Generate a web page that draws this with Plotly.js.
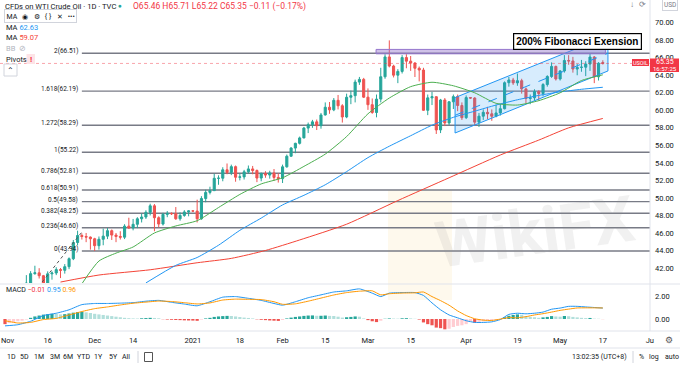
<!DOCTYPE html>
<html><head><meta charset="utf-8">
<script src="https://cdn.plot.ly/plotly-3.0.1.min.js"></script>
<style>html,body{margin:0;padding:0;background:#fff;}#chart{width:680px;height:365px;}</style>
</head><body><div id="chart"></div>
<script>
// ---- Data (trading days from 2 Nov 2020 to 17 May 2021, index 0..140) ----
const open = [35.79,36.81,37.66,39.15,38.79,37.14,40.29,41.36,41.45,41.12,
40.13,41.34,41.43,41.82,41.74,42.15,43.06,44.91,45.71,45.60,
45.53,45.34,44.55,45.28,45.64,46.26,45.76,45.60,45.52,46.78,
46.57,46.99,47.62,47.82,48.36,49.10,47.74,47.02,48.12,48.23,
48.20,47.62,48.00,48.40,48.52,48.50,47.62,49.93,50.63,50.83,
52.24,52.25,53.21,52.91,53.57,52.36,52.40,52.98,53.31,53.13,
52.27,52.77,52.61,52.85,52.34,52.20,53.55,54.76,55.69,56.23,
56.85,57.97,58.36,58.68,58.24,59.47,60.35,60.05,61.14,60.52,
59.24,61.49,61.67,63.22,63.53,61.50,60.64,59.75,61.28,63.83,
66.09,65.05,64.01,64.44,66.02,65.61,65.39,64.80,64.60,60.00,
61.42,61.55,57.76,61.18,58.56,60.97,61.56,60.55,59.16,61.45,
61.40,58.65,59.33,59.77,59.60,59.32,59.70,60.18,63.15,63.46,
63.13,63.38,62.44,61.35,61.43,62.14,61.91,62.94,63.86,65.01,
63.58,64.49,65.69,65.63,64.71,64.90,64.92,65.28,66.08,63.82,
65.46];
const high = [37.26,38.48,39.77,39.34,38.94,41.19,41.64,42.26,41.98,41.21,
41.62,41.62,42.09,42.00,42.45,43.21,45.20,46.26,45.95,46.00,
45.60,45.45,45.60,46.50,46.56,46.40,46.00,46.20,47.00,47.74,
47.60,47.80,48.20,48.59,49.34,49.30,47.90,48.30,48.50,48.35,
48.96,48.35,48.60,48.60,48.60,49.80,50.20,50.94,51.28,52.75,
52.58,53.50,53.93,53.80,53.70,52.80,53.20,53.70,53.65,53.25,
52.90,53.05,53.10,53.30,52.80,53.80,54.95,55.80,56.30,57.00,
58.10,58.60,58.91,58.95,59.70,60.90,60.95,61.40,61.75,60.70,
61.90,62.25,63.50,63.81,63.70,62.50,61.35,61.80,64.85,66.40,
67.98,65.20,64.70,66.30,66.40,66.20,65.50,65.00,64.85,61.80,
62.10,61.60,61.30,61.40,61.05,61.80,61.80,60.90,61.70,61.50,
61.50,59.70,60.10,60.40,60.10,60.65,60.75,63.30,63.80,63.70,
64.20,63.60,62.60,61.80,62.40,62.30,63.10,64.00,65.47,65.10,
64.60,66.30,66.30,66.10,65.30,65.75,65.60,66.47,66.20,65.50,
65.71];
const low = [33.64,36.60,37.23,37.87,36.83,37.02,39.40,41.23,40.80,39.87,
39.82,40.67,41.19,40.85,41.36,41.87,42.90,44.60,45.25,44.95,
44.10,43.94,44.10,44.60,45.30,45.20,44.95,45.25,45.30,46.45,
46.30,46.55,47.20,47.60,48.00,46.20,46.65,46.85,47.80,48.05,
47.50,47.40,47.85,47.90,48.40,47.20,47.50,49.50,50.40,50.80,
51.50,51.90,52.70,52.60,51.85,52.00,52.10,52.80,52.70,51.80,
51.90,52.30,52.20,51.95,51.75,51.70,53.45,54.70,55.10,56.10,
56.80,57.40,58.00,57.75,57.90,59.40,59.60,59.90,60.10,58.60,
59.10,60.70,60.90,62.90,61.40,60.05,59.60,59.20,60.90,63.60,
64.90,63.75,63.10,64.20,64.80,64.50,63.80,63.30,59.95,59.45,
60.60,57.30,57.40,58.20,58.30,60.15,59.90,58.90,59.00,61.30,
58.30,58.10,58.90,59.00,58.80,59.20,59.40,60.10,62.70,62.90,
62.80,61.90,60.80,60.70,61.10,61.10,61.60,62.70,63.70,63.40,
63.40,64.30,65.20,64.30,64.00,64.40,63.90,64.50,63.10,63.40,
65.22];
const close = [36.81,37.66,39.15,38.79,37.14,40.29,41.36,41.45,41.12,40.13,
41.34,41.43,41.82,41.74,42.15,43.06,44.91,45.71,45.60,45.53,
45.34,44.55,45.28,45.64,46.26,45.76,45.60,45.52,46.78,46.57,
46.99,47.62,47.82,48.36,49.10,47.74,47.02,48.12,48.23,48.20,
47.62,48.00,48.40,48.52,48.50,47.62,49.93,50.63,50.83,52.24,
52.25,53.21,52.91,53.57,52.36,52.40,52.98,53.31,53.13,52.27,
52.77,52.61,52.85,52.34,52.20,53.55,54.76,55.69,56.23,56.85,
57.97,58.36,58.68,58.24,59.47,60.35,60.05,61.14,60.52,59.24,
61.49,61.67,63.22,63.53,61.50,60.64,59.75,61.28,63.83,66.09,
65.05,64.01,64.44,66.02,65.61,65.39,64.80,64.60,60.00,61.42,
61.55,57.76,61.18,58.56,60.97,61.56,60.55,59.16,61.45,61.40,
58.65,59.33,59.77,59.60,59.32,59.70,60.18,63.15,63.46,63.13,
63.38,62.44,61.35,61.43,62.14,61.91,62.94,63.86,65.01,63.58,
64.49,65.69,65.63,64.71,64.90,64.92,65.28,66.08,63.82,65.37,
65.35];

// Moving averages (trading-day index, value)
const maFastIdx = [18,22,26,30,35,40,45,50,55,60,65,70,75,80,85,90,95,100,105,110,115,120,125,130,135,140];
const maFastVal = [40.2,42.8,43.7,44.4,46.0,46.8,47.4,48.9,50.4,51.6,52.3,53.6,55.0,57.0,59.6,61.4,62.7,63.2,62.8,62.0,60.8,60.6,61.1,62.0,63.4,64.05];
const maMidIdx = [33,40,45,50,55,60,65,70,75,80,85,90,95,100,105,110,115,120,125,130,135,140];
const maMidVal = [40.3,42.3,43.2,44.6,46.3,47.7,49.2,50.3,51.5,53.0,54.6,55.9,57.1,58.3,59.2,59.9,60.6,61.2,61.7,62.1,62.4,62.63];
const maSlowIdx = [13,22,34,45,53,61,69,80,92,104,116,125,132,140];
const maSlowVal = [40.4,41.2,41.8,42.6,43.1,44.0,45.2,47.0,49.7,52.3,54.9,56.6,58.0,59.07];

// MACD
const macdIdx = [0,3,6,9,12,15,18,21,24,27,30,33,36,39,42,45,48,51,54,57,60,63,65,68,71,74,77,80,83,86,88,90,93,96,98,100,102,104,106,108,110,112,114,116,118,120,122,124,126,128,130,132,134,136,138,140];
const macdLine = [-0.6,-0.5,-0.2,0.3,0.5,0.8,1.25,1.35,1.35,1.38,1.42,1.55,1.62,1.45,1.3,1.15,1.5,1.9,1.95,1.8,1.62,1.35,1.2,1.5,1.85,2.1,2.35,2.45,2.62,2.25,1.95,2.25,2.3,2.3,2.05,1.4,0.8,0.35,0.1,-0.15,-0.3,-0.3,-0.25,-0.05,0.4,0.5,0.45,0.5,0.6,0.85,0.95,1.1,1.1,1.05,1.0,0.95];
const signalLine = [-0.15,-0.35,-0.3,-0.05,0.05,0.35,0.65,0.9,1.05,1.22,1.37,1.47,1.56,1.52,1.42,1.31,1.4,1.65,1.73,1.71,1.69,1.5,1.28,1.32,1.55,1.82,2.09,2.3,2.42,2.45,2.1,2.2,2.26,2.28,2.35,1.95,1.6,1.2,0.7,0.3,0.02,-0.1,-0.13,-0.01,0.12,0.1,0.2,0.35,0.46,0.6,0.75,0.86,0.96,0.97,0.97,0.96];
const histogram = [-0.45,-0.35,-0.3,-0.2,-0.15,-0.05,0.1,0.22,0.3,0.38,
0.42,0.45,0.44,0.4,0.42,0.48,0.55,0.6,0.62,0.58,
0.52,0.45,0.4,0.35,0.3,0.25,0.2,0.15,0.1,0.07,
0.05,0.04,0.06,0.08,0.1,0.09,0.06,-0.02,-0.05,-0.07,
-0.09,-0.1,-0.12,-0.13,-0.14,-0.16,-0.05,0.05,0.1,0.18,
0.22,0.25,0.27,0.26,0.22,0.17,0.12,0.09,0.05,-0.03,
-0.07,-0.1,-0.13,-0.15,-0.17,-0.08,0.05,0.12,0.18,0.22,
0.27,0.3,0.31,0.28,0.28,0.3,0.27,0.26,0.2,0.12,
0.15,0.18,0.22,0.2,0.05,-0.1,-0.2,-0.27,-0.15,0.02,
0.05,0.04,0.03,0.06,0.07,0.05,0.02,-0.05,-0.3,-0.45,
-0.55,-0.75,-0.8,-0.9,-0.85,-0.7,-0.6,-0.55,-0.45,-0.2,
-0.32,-0.25,-0.2,-0.15,-0.12,-0.08,-0.04,0.15,0.28,0.35,
0.4,0.37,0.25,0.18,0.15,0.1,0.14,0.18,0.25,0.22,
0.2,0.26,0.24,0.18,0.14,0.1,0.08,0.09,0.03,0.02,
-0.01];

// Fibonacci extension levels
const fibRatio = ['2','1.618','1.272','1','0.786','0.618','0.5','0.382','0.236','0'];
const fibPrice = [66.51,62.19,58.29,55.22,52.81,50.91,49.58,48.25,46.60,43.94];

// Parallel channel (index, price)
const chanIdx = [105.4, 141.2];
const chanUpper = [61.45, 68.5];
const chanLower = [57.41, 64.49];
const chanMid = [59.43, 66.5];

// Resistance zone
const zoneIdx = [86.9, 140.6];
const zonePrice = [66.45, 66.95];

// Axis ticks
const tickIdx = [0.6,10,21,30,44,55,65,75,85,95,108,120,130,140,151];
const tickText = ['Nov','16','Dec','14','2021','18','Feb','15','Mar','15','Apr','19','May','17','Ju'];
const priceTicks = [42,44,46,48,50,52,54,56,58,60,62,64,66,68,70];
const lastPrice = 65.35;

// ---- Drawing ----
const FONT = 'Roboto, "Liberation Sans", Arial, sans-serif';
const xs = close.map((_, i) => i);
const PW = 650, PH = 330;
const P = x => x / PW, Q = y => 1 - y / PH;

const histColors = histogram.map((v, i) => {
  const prev = i > 0 ? histogram[i - 1] : v;
  if (v >= 0) return v >= prev ? '#26A69A' : '#B2DFDB';
  return v <= prev ? '#EF5350' : '#FFCDD2';
});

const traces = [
  {type:'scatter', x:[chanIdx[0],chanIdx[1],chanIdx[1],chanIdx[0],chanIdx[0]],
   y:[chanUpper[0],chanUpper[1],chanLower[1],chanLower[0],chanUpper[0]],
   fill:'toself', fillcolor:'rgba(33,150,243,0.18)', mode:'lines',
   line:{color:'#2196F3', width:1}, hoverinfo:'skip', xaxis:'x', yaxis:'y'},
  {type:'scatter', x:chanIdx, y:chanMid, mode:'lines', line:{color:'#2196F3', width:1, dash:'dash'}, hoverinfo:'skip'},
  {type:'scatter', x:maSlowIdx, y:maSlowVal, mode:'lines', line:{color:'#F44336', width:1, shape:'spline', smoothing:0.6}, hoverinfo:'skip'},
  {type:'scatter', x:maMidIdx, y:maMidVal, mode:'lines', line:{color:'#2196F3', width:1, shape:'spline', smoothing:0.6}, hoverinfo:'skip'},
  {type:'scatter', x:maFastIdx, y:maFastVal, mode:'lines', line:{color:'#4CAF50', width:1, shape:'spline', smoothing:0.6}, hoverinfo:'skip'},
  {type:'candlestick', x:xs, open:open, high:high, low:low, close:close,
   increasing:{line:{color:'#26A69A', width:1}, fillcolor:'#26A69A'},
   decreasing:{line:{color:'#EF5350', width:1}, fillcolor:'#EF5350'},
   whiskerwidth:0, hoverinfo:'skip', xaxis:'x', yaxis:'y'},
  {type:'bar', x:xs, y:histogram, marker:{color:histColors, line:{width:0}}, width:0.75, xaxis:'x', yaxis:'y2', hoverinfo:'skip'},
  {type:'scatter', x:macdIdx, y:macdLine, mode:'lines', line:{color:'#2196F3', width:1, shape:'spline', smoothing:0.5}, xaxis:'x', yaxis:'y2', hoverinfo:'skip'},
  {type:'scatter', x:macdIdx, y:signalLine, mode:'lines', line:{color:'#FF9800', width:1, shape:'spline', smoothing:0.5}, xaxis:'x', yaxis:'y2', hoverinfo:'skip'}
];

const shapes = [];
const annotations = [];
const txt = (x, y, text, opt = {}) => Object.assign({
  xref:'paper', yref:'paper', x:P(x), y:Q(y), text:text, showarrow:false,
  xanchor:'left', yanchor:'middle', font:{family:FONT, size:8, color:'#131722'}
}, opt);
const hline = (x0, x1, y, color) => ({type:'line', xref:'paper', yref:'paper', x0:P(x0), x1:P(x1), y0:Q(y), y1:Q(y), line:{color:color, width:1}});
const vline = (x, y0, y1, color) => ({type:'line', xref:'paper', yref:'paper', x0:P(x), x1:P(x), y0:Q(y0), y1:Q(y1), line:{color:color, width:1}});
const rect = (x0, y0, x1, y1, fill, lineColor, layer) => ({type:'rect', xref:'paper', yref:'paper', x0:P(x0), x1:P(x1), y0:Q(y0), y1:Q(y1), fillcolor:fill, line:{color:lineColor || fill, width:lineColor ? 1 : 0}, layer:layer || 'above'});

// watermark
shapes.push({type:'rect', xref:'paper', yref:'paper', x0:P(388), x1:P(452), y0:Q(300), y1:Q(190), fillcolor:'rgba(250,215,130,0.14)', line:{width:0}, layer:'below'});
annotations.push(txt(535, 232, '<b>WikiFX</b>', {xanchor:'center', textangle:-8, font:{family:FONT, size:64, color:'rgba(150,150,150,0.13)'}}));

// fib levels
fibPrice.forEach((p, i) => {
  shapes.push({type:'line', xref:'x', yref:'y', x0:18, x1:151.05, y0:p, y1:p, line:{color:'#787B86', width:1.4}, layer:'below'});
  annotations.push({xref:'x', yref:'y', x:17.6, y:p, yshift:2, text:fibRatio[i] + '(' + p.toFixed(2) + ')', showarrow:false, xanchor:'right', yanchor:'middle', font:{family:FONT, size:6.5, color:'#131722'}});
});
// dashed trend line of the fib tool
shapes.push({type:'line', xref:'x', yref:'y', x0:8.7, x1:18, y0:40.4, y1:46.1, line:{color:'#555', width:1, dash:'dot'}});

// resistance zone
shapes.push({type:'rect', xref:'x', yref:'y', x0:zoneIdx[0], x1:zoneIdx[1], y0:zonePrice[0], y1:zonePrice[1], fillcolor:'rgba(149,117,205,0.45)', line:{color:'#9575CD', width:1}, layer:'above'});

// price line
shapes.push({type:'line', xref:'paper', yref:'y', x0:0, x1:1, y0:lastPrice, y1:lastPrice, line:{color:'rgba(242,54,69,0.45)', width:1, dash:'dot'}});

// frame lines
shapes.push(hline(0, 680, 284, '#e0e3eb'));
shapes.push(hline(0, 680, 331, '#e0e3eb'));
shapes.push(hline(0, 680, 348, '#e0e3eb'));
shapes.push(vline(650, 0, 331, '#e0e3eb'));

// text box
annotations.push(txt(577.5, 41.5, '<b>200% Fibonacci Exension</b>', {xanchor:'center', font:{family:'"Liberation Sans", Arial, sans-serif', size:10, color:'#000'}, bgcolor:'#ffffff', bordercolor:'#000000', borderwidth:1.2, borderpad:2}));

// legend texts
annotations.push(txt(3, 6, 'CFDs on WTI Crude Oil · 1D · TVC', {font:{family:FONT, size:7.6, color:'#131722'}}));
annotations.push(txt(120, 6, '●', {xanchor:'center', font:{family:FONT, size:6.5, color:'#26A69A'}}));
const R = s => '<span style="color:#F23645">' + s + '</span>';
annotations.push(txt(131, 6, 'O' + R('65.46') + ' H' + R('65.71') + ' L' + R('65.22') + ' C' + R('65.35') + ' ' + R('−0.11 (−0.17%)'), {font:{family:FONT, size:8.5, color:'#F23645'}}));
annotations.push(txt(4, 15.5, 'MA   ◉   ⚙   { }   ✕   •••', {font:{family:FONT, size:7, color:'#131722'}, bordercolor:'#d1d4dc', borderwidth:1, borderpad:1.5}));
annotations.push(txt(4, 27.5, 'MA <span style="color:#2196F3">62.63</span>', {font:{family:FONT, size:7.5, color:'#131722'}}));
annotations.push(txt(4, 37.5, 'MA <span style="color:#F44336">59.07</span>', {font:{family:FONT, size:7.5, color:'#131722'}}));
annotations.push(txt(4, 48, 'BB  ⊘', {font:{family:FONT, size:7.5, color:'#B2B5BE'}}));
shapes.push(rect(26.5, 54, 35, 64, '#FDE3E6'));
annotations.push(txt(4, 59, 'Pivots', {font:{family:FONT, size:7.5, color:'#131722'}}));
annotations.push(txt(30.7, 59, '<b>!</b>', {xanchor:'center', font:{family:FONT, size:8, color:'#F23645'}}));
shapes.push(rect(4, 64, 17, 76, '#ffffff', '#d1d4dc'));
annotations.push(txt(10.5, 71, '⌃', {xanchor:'center', font:{family:FONT, size:8, color:'#131722'}}));

// MACD legend
annotations.push(txt(4, 290, 'MACD <span style="color:#F23645">−0.01</span> <span style="color:#2196F3">0.95</span> <span style="color:#FF9800">0.96</span>', {font:{family:FONT, size:7, color:'#131722'}}));

// top-right
annotations.push(txt(632, 5, '↓', {xanchor:'center', font:{family:FONT, size:8, color:'#787B86'}}));
annotations.push(txt(642, 5, '⟳', {xanchor:'center', font:{family:FONT, size:8, color:'#787B86'}}));
annotations.push(txt(670, 5, 'USD', {xanchor:'center', font:{family:FONT, size:6.5, color:'#787B86'}, bordercolor:'#d1d4dc', borderwidth:1, borderpad:1}));

// price labels
shapes.push(rect(632, 59, 649, 66, '#F23645'));
annotations.push(txt(640.5, 62.5, 'USOIL', {xanchor:'center', font:{family:FONT, size:5.5, color:'#ffffff'}}));
shapes.push(rect(650, 58.5, 679, 72, '#F23645'));
annotations.push(txt(664.5, 62, '65.35', {xanchor:'center', font:{family:FONT, size:7, color:'#ffffff'}}));
annotations.push(txt(664.5, 68.3, '16:57:25', {xanchor:'center', font:{family:FONT, size:6, color:'#ffffff'}}));

// bottom toolbar
const tb = [['1D',11],['5D',24],['1M',39],['3M',55],['6M',68],['YTD',83],['1Y',98],['5Y',113],['All',126]];
tb.forEach(t => annotations.push(txt(t[1], 357, t[0], {xanchor:'center', font:{family:FONT, size:7, color:'#131722'}})));
shapes.push(vline(138, 351, 363, '#d1d4dc'));
shapes.push(rect(144.5, 352.5, 152.5, 361.5, 'rgba(0,0,0,0)', '#555'));
annotations.push(txt(599, 357, '13:02:35 (UTC+8)', {xanchor:'center', font:{family:FONT, size:7, color:'#131722'}}));
shapes.push(vline(633, 351, 363, '#d1d4dc'));
annotations.push(txt(641, 357, '%', {xanchor:'center', font:{family:FONT, size:7, color:'#131722'}}));
annotations.push(txt(654, 357, 'log', {xanchor:'center', font:{family:FONT, size:7, color:'#131722'}}));
annotations.push(txt(672, 357, 'auto', {xanchor:'center', font:{family:FONT, size:7, color:'#131722'}}));
annotations.push(txt(669, 340, '⚙', {xanchor:'center', font:{family:FONT, size:9, color:'#555'}}));

const axisFont = {family:FONT, size:7.5, color:'#131722'};
const layout = {
  width:680, height:365,
  margin:{l:0, r:30, t:0, b:35, pad:0},
  paper_bgcolor:'#ffffff', plot_bgcolor:'#ffffff',
  showlegend:false, hovermode:false, dragmode:false,
  xaxis:{range:[-1.17, 151.05], tickvals:tickIdx, ticktext:tickText, showgrid:false, zeroline:false,
         ticks:'', tickfont:axisFont, rangeslider:{visible:false}, anchor:'y2', showline:false, fixedrange:true,
         ticklabeloverflow:'allow', ticklabelstandoff:4},
  yaxis:{domain:[47/330, 1], range:[40.29, 72.59], side:'right', tickvals:priceTicks, tickformat:'.2f',
         showgrid:false, zeroline:false, ticks:'', tickfont:axisFont, showline:false, fixedrange:true, ticklabelstandoff:4},
  yaxis2:{domain:[0, 45/330], range:[-0.96, 2.96], side:'right', tickvals:[0,2], tickformat:'.2f',
          showgrid:false, zeroline:false, ticks:'', tickfont:axisFont, showline:false, fixedrange:true, ticklabelstandoff:4},
  shapes:shapes, annotations:annotations
};
Plotly.newPlot('chart', traces, layout, {staticPlot:true, displayModeBar:false});
</script>
</body></html>
